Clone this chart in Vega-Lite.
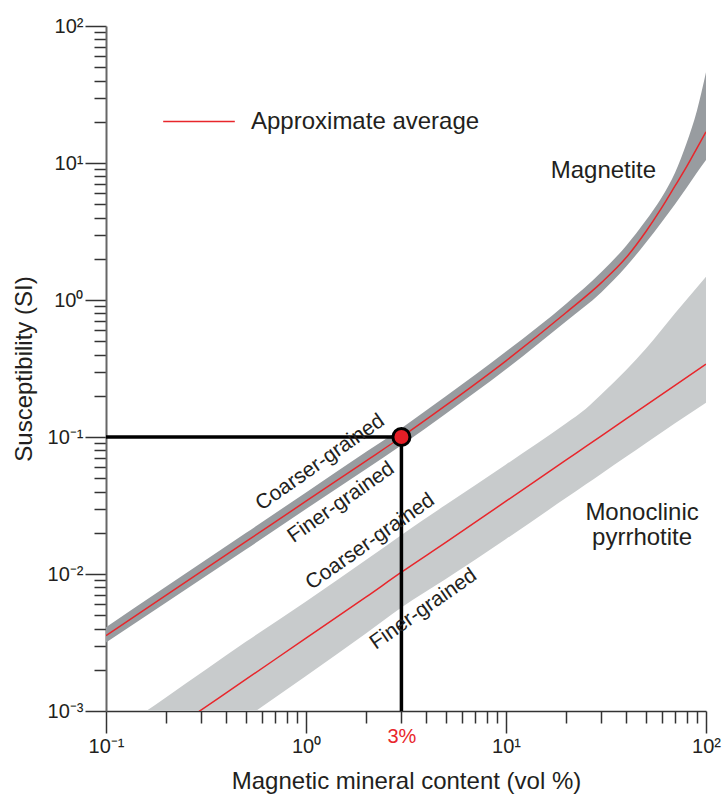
{
  "$schema": "https://vega.github.io/schema/vega-lite/v6.json",
  "autosize": {"type": "none"},
  "padding": {"left": 106, "top": 26, "right": 17, "bottom": 86},
  "width": 600,
  "height": 685,
  "datasets": {
    "bands": [
      {"mineral": "Magnetite", "x": 0.1, "lo": 0.00316, "avg": 0.00355, "hi": 0.00408},
      {"mineral": "Magnetite", "x": 0.2, "lo": 0.0062, "avg": 0.007, "hi": 0.0081},
      {"mineral": "Magnetite", "x": 0.5, "lo": 0.0151, "avg": 0.0172, "hi": 0.0199},
      {"mineral": "Magnetite", "x": 1, "lo": 0.0298, "avg": 0.034, "hi": 0.0394},
      {"mineral": "Magnetite", "x": 2, "lo": 0.0585, "avg": 0.067, "hi": 0.078},
      {"mineral": "Magnetite", "x": 3, "lo": 0.087, "avg": 0.1, "hi": 0.116},
      {"mineral": "Magnetite", "x": 5, "lo": 0.148, "avg": 0.17, "hi": 0.198},
      {"mineral": "Magnetite", "x": 10, "lo": 0.312, "avg": 0.36, "hi": 0.42},
      {"mineral": "Magnetite", "x": 20, "lo": 0.7, "avg": 0.81, "hi": 0.94},
      {"mineral": "Magnetite", "x": 30, "lo": 1.14, "avg": 1.34, "hi": 1.6},
      {"mineral": "Magnetite", "x": 40, "lo": 1.76, "avg": 2.05, "hi": 2.5},
      {"mineral": "Magnetite", "x": 50, "lo": 2.62, "avg": 3.15, "hi": 3.8},
      {"mineral": "Magnetite", "x": 60, "lo": 3.7, "avg": 4.7, "hi": 5.6},
      {"mineral": "Magnetite", "x": 70, "lo": 5.0, "avg": 6.8, "hi": 8.5},
      {"mineral": "Magnetite", "x": 80, "lo": 6.6, "avg": 9.4, "hi": 14},
      {"mineral": "Magnetite", "x": 90, "lo": 8.5, "avg": 12.8, "hi": 24},
      {"mineral": "Magnetite", "x": 100, "lo": 10.5, "avg": 16.9, "hi": 46},
      {"mineral": "Monoclinic pyrrhotite", "x": 0.1, "lo": 0.000178, "avg": 0.000339, "hi": 0.00063},
      {"mineral": "Monoclinic pyrrhotite", "x": 0.2, "lo": 0.000356, "avg": 0.00068, "hi": 0.00126},
      {"mineral": "Monoclinic pyrrhotite", "x": 0.5, "lo": 0.00089, "avg": 0.0017, "hi": 0.0032},
      {"mineral": "Monoclinic pyrrhotite", "x": 1, "lo": 0.0018, "avg": 0.0034, "hi": 0.0063},
      {"mineral": "Monoclinic pyrrhotite", "x": 2, "lo": 0.0037, "avg": 0.0068, "hi": 0.0127},
      {"mineral": "Monoclinic pyrrhotite", "x": 3, "lo": 0.0057, "avg": 0.0103, "hi": 0.0193},
      {"mineral": "Monoclinic pyrrhotite", "x": 5, "lo": 0.0092, "avg": 0.017, "hi": 0.032},
      {"mineral": "Monoclinic pyrrhotite", "x": 10, "lo": 0.018, "avg": 0.034, "hi": 0.063},
      {"mineral": "Monoclinic pyrrhotite", "x": 20, "lo": 0.036, "avg": 0.068, "hi": 0.126},
      {"mineral": "Monoclinic pyrrhotite", "x": 25, "lo": 0.045, "avg": 0.085, "hi": 0.16},
      {"mineral": "Monoclinic pyrrhotite", "x": 30, "lo": 0.054, "avg": 0.102, "hi": 0.205},
      {"mineral": "Monoclinic pyrrhotite", "x": 40, "lo": 0.072, "avg": 0.136, "hi": 0.31},
      {"mineral": "Monoclinic pyrrhotite", "x": 50, "lo": 0.09, "avg": 0.17, "hi": 0.44},
      {"mineral": "Monoclinic pyrrhotite", "x": 70, "lo": 0.126, "avg": 0.238, "hi": 0.8},
      {"mineral": "Monoclinic pyrrhotite", "x": 100, "lo": 0.178, "avg": 0.34, "hi": 1.48}
    ],
    "guides": [
      {"x": 0.1, "x2": 3, "y": 0.1, "y2": 0.1},
      {"x": 3, "x2": 3, "y": 0.001, "y2": 0.1}
    ],
    "marker": [{"x": 3, "y": 0.1}],
    "grainLabels": [
      {"text": "Coarser-grained", "x": 1.179, "y": 0.0652},
      {"text": "Finer-grained", "x": 1.498, "y": 0.0333},
      {"text": "Coarser-grained", "x": 2.097, "y": 0.0172},
      {"text": "Finer-grained", "x": 3.87, "y": 0.00553}
    ],
    "mineralLabels": [
      {"text": "Magnetite", "x": 30.7, "y": 7.73},
      {"text": "Monoclinic", "x": 47.9, "y": 0.0248},
      {"text": "pyrrhotite", "x": 47.9, "y": 0.0163}
    ]
  },
  "encoding": {
    "x": {
      "type": "quantitative",
      "scale": {"type": "log", "domain": [0.1, 100], "nice": false},
      "axis": {
        "title": "Magnetic mineral content (vol %)",
        "titleFontSize": 24,
        "titleFontWeight": "normal",
        "titleColor": "#231f20",
        "titleX": 300,
        "titleY": 77,
        "titleBaseline": "alphabetic",
        "titleAlign": "center",
        "values": [0.1, 0.2, 0.3, 0.4, 0.5, 0.6, 0.7, 0.8, 0.9, 1, 2, 3, 4, 5, 6, 7, 8, 9, 10, 20, 30, 40, 50, 60, 70, 80, 90, 100],
        "labelExpr": "datum.value == 0.1 ? '10⁻¹' : datum.value == 1 ? '10⁰' : datum.value == 10 ? '10¹' : datum.value == 100 ? '10²' : datum.value == 3 ? '3%' : ''",
        "labelColor": {"condition": {"test": "datum.value == 3", "value": "#e8262b"}, "value": "#231f20"},
        "labelFontSize": 20,
        "labelFlush": false,
        "labelOverlap": false,
        "labelBound": false,
        "labelPadding": 3,
        "tickSize": {"condition": {"test": "datum.value == 0.1 || datum.value == 1 || datum.value == 10 || datum.value == 100", "value": 22}, "value": 12},
        "tickWidth": 1.5,
        "tickColor": "#333333",
        "domainColor": "#333333",
        "domainWidth": 1.5,
        "grid": false
      }
    },
    "y": {
      "type": "quantitative",
      "scale": {"type": "log", "domain": [0.001, 100], "nice": false},
      "axis": {
        "title": "Susceptibility (SI)",
        "titleFontSize": 24,
        "titleFontWeight": "normal",
        "titleColor": "#231f20",
        "titleX": -75,
        "titleY": 342.5,
        "titleBaseline": "alphabetic",
        "titleAlign": "center",
        "titleAngle": 270,
        "values": [0.001, 0.002, 0.003, 0.004, 0.005, 0.006, 0.007, 0.008, 0.009, 0.01, 0.02, 0.03, 0.04, 0.05, 0.06, 0.07, 0.08, 0.09, 0.1, 0.2, 0.3, 0.4, 0.5, 0.6, 0.7, 0.8, 0.9, 1, 2, 3, 4, 5, 6, 7, 8, 9, 10, 20, 30, 40, 50, 60, 70, 80, 90, 100],
        "labelExpr": "datum.value == 0.001 ? '10⁻³' : datum.value == 0.01 ? '10⁻²' : datum.value == 0.1 ? '10⁻¹' : datum.value == 1 ? '10⁰' : datum.value == 10 ? '10¹' : datum.value == 100 ? '10²' : ''",
        "labelColor": "#231f20",
        "labelFontSize": 20,
        "labelFlush": false,
        "labelOverlap": false,
        "labelBound": false,
        "labelPadding": 2,
        "tickSize": {"condition": {"test": "datum.value == 0.001 || datum.value == 0.01 || datum.value == 0.1 || datum.value == 1 || datum.value == 10 || datum.value == 100", "value": 21}, "value": 12},
        "tickWidth": 1.5,
        "tickColor": "#333333",
        "domainColor": "#666666",
        "domainWidth": 2,
        "grid": false
      }
    }
  },
  "layer": [
    {
      "data": {"name": "bands"},
      "mark": {"type": "area", "clip": true, "interpolate": "monotone"},
      "encoding": {
        "x": {"field": "x"},
        "y": {"field": "lo"},
        "y2": {"field": "hi"},
        "fill": {
          "field": "mineral",
          "type": "nominal",
          "scale": {"domain": ["Magnetite", "Monoclinic pyrrhotite"], "range": ["#989ca0", "#c8cbcc"]},
          "legend": null
        },
        "detail": {"field": "mineral"}
      }
    },
    {
      "data": {"name": "bands"},
      "mark": {"type": "line", "clip": true, "interpolate": "monotone", "strokeWidth": 1.5},
      "encoding": {
        "x": {"field": "x"},
        "y": {"field": "avg"},
        "detail": {"field": "mineral"},
        "stroke": {
          "datum": "Approximate average",
          "type": "nominal",
          "scale": {"range": ["#e8262b"]},
          "legend": {
            "title": null,
            "orient": "none",
            "legendX": 56,
            "legendY": 58.5,
            "symbolType": "stroke",
            "symbolSize": 5130,
            "symbolStrokeWidth": 1.5,
            "labelFontSize": 24,
            "labelColor": "#231f20",
            "labelFont": "Liberation Sans",
            "labelOffset": 15,
            "labelLimit": 500
          }
        }
      }
    },
    {
      "data": {"name": "guides"},
      "mark": {"type": "rule", "color": "#000000", "strokeWidth": 3.5},
      "encoding": {
        "x": {"field": "x"},
        "x2": {"field": "x2"},
        "y": {"field": "y"},
        "y2": {"field": "y2"}
      }
    },
    {
      "data": {"name": "marker"},
      "mark": {"type": "point", "shape": "circle", "filled": true, "fill": "#e41e26", "stroke": "#000000", "strokeWidth": 3, "size": 290, "opacity": 1},
      "encoding": {
        "x": {"field": "x"},
        "y": {"field": "y"}
      }
    },
    {
      "data": {"name": "grainLabels"},
      "mark": {"type": "text", "angle": 325, "align": "center", "baseline": "middle", "fontSize": 21, "font": "Liberation Sans", "color": "#231f20"},
      "encoding": {
        "x": {"field": "x"},
        "y": {"field": "y"},
        "text": {"field": "text"}
      }
    },
    {
      "data": {"name": "mineralLabels"},
      "mark": {"type": "text", "align": "center", "baseline": "alphabetic", "fontSize": 24, "font": "Liberation Sans", "color": "#231f20"},
      "encoding": {
        "x": {"field": "x"},
        "y": {"field": "y"},
        "text": {"field": "text"}
      }
    }
  ],
  "config": {
    "view": {"stroke": null},
    "font": "Liberation Sans",
    "axis": {"labelFont": "Liberation Sans", "titleFont": "Liberation Sans"}
  }
}
